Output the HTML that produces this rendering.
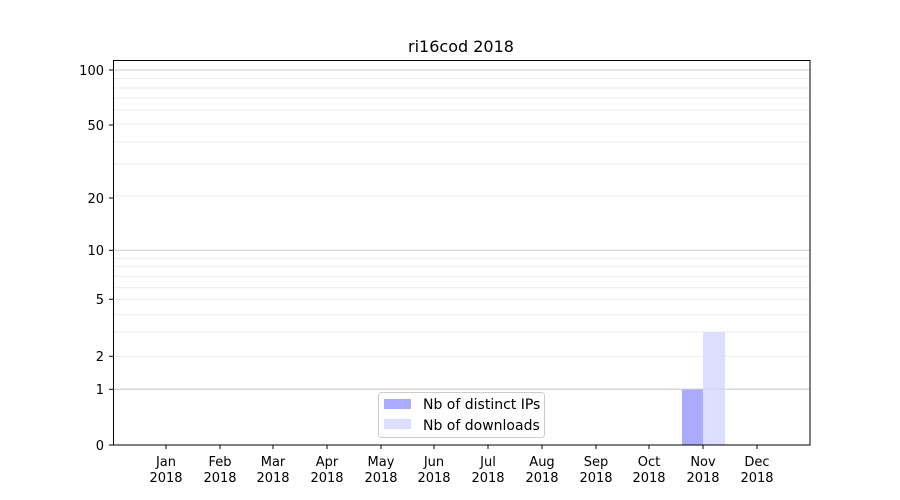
<!DOCTYPE html>
<html><head><style>body{margin:0;background:#fff}svg{display:block}</style></head><body>
<svg width="900" height="500" xmlns="http://www.w3.org/2000/svg" font-family="DejaVu Sans, Liberation Sans, sans-serif" font-size="13">
<rect width="900" height="500" fill="#fff"/>
<g stroke="#ebebeb" stroke-width="1">
<line x1="113" x2="810" y1="258.3" y2="258.3"/><line x1="113" x2="810" y1="266.3" y2="266.3"/><line x1="113" x2="810" y1="276.3" y2="276.3"/><line x1="113" x2="810" y1="287.7" y2="287.7"/><line x1="113" x2="810" y1="299.3" y2="299.3"/><line x1="113" x2="810" y1="314.7" y2="314.7"/><line x1="113" x2="810" y1="332" y2="332"/><line x1="113" x2="810" y1="356.3" y2="356.3"/>
<line x1="113" x2="810" y1="196" y2="196"/><line x1="113" x2="810" y1="164" y2="164"/><line x1="113" x2="810" y1="142" y2="142"/><line x1="113" x2="810" y1="124" y2="124"/><line x1="113" x2="810" y1="110" y2="110"/><line x1="113" x2="810" y1="98" y2="98"/><line x1="113" x2="810" y1="88" y2="88"/><line x1="113" x2="810" y1="78.5" y2="78.5"/>
</g>
<g stroke="#cccccc" stroke-width="1">
<line x1="113" x2="810" y1="70" y2="70"/><line x1="113" x2="810" y1="250.3" y2="250.3"/><line x1="113" x2="810" y1="389.3" y2="389.3"/>
</g>
<rect x="682" y="389.3" width="21" height="55.7" fill="#aaaaff"/>
<rect x="703" y="332" width="22" height="113" fill="#ddddff"/>
<line x1="113" x2="810" y1="389.3" y2="389.3" stroke="#cccccc" stroke-opacity="0.5"/>
<rect x="113.5" y="60.5" width="696.5" height="384.5" fill="none" stroke="#000" stroke-width="1"/>
<text x="461" y="52" text-anchor="middle" font-size="16">ri16cod 2018</text>
<g stroke="#000">
<line x1="109" x2="113" y1="70" y2="70"/><line x1="109" x2="113" y1="125" y2="125"/><line x1="109" x2="113" y1="198" y2="198"/><line x1="109" x2="113" y1="250.3" y2="250.3"/><line x1="109" x2="113" y1="299.3" y2="299.3"/><line x1="109" x2="113" y1="356.3" y2="356.3"/><line x1="109" x2="113" y1="389.3" y2="389.3"/><line x1="109" x2="113" y1="445" y2="445"/>
</g>
<g text-anchor="end">
<text x="104" y="75">100</text><text x="104" y="130">50</text><text x="104" y="203">20</text><text x="104" y="255">10</text><text x="104" y="304">5</text><text x="104" y="361">2</text><text x="104" y="394">1</text><text x="104" y="450">0</text>
</g>
<g text-anchor="middle">
<g stroke="#000">
<line x1="166" x2="166" y1="445" y2="449"/><line x1="220" x2="220" y1="445" y2="449"/><line x1="273" x2="273" y1="445" y2="449"/><line x1="327" x2="327" y1="445" y2="449"/><line x1="381" x2="381" y1="445" y2="449"/><line x1="434" x2="434" y1="445" y2="449"/><line x1="488" x2="488" y1="445" y2="449"/><line x1="542" x2="542" y1="445" y2="449"/><line x1="596" x2="596" y1="445" y2="449"/><line x1="649" x2="649" y1="445" y2="449"/><line x1="703" x2="703" y1="445" y2="449"/><line x1="757" x2="757" y1="445" y2="449"/>
</g>
<text x="166" y="466">Jan</text><text x="166" y="482">2018</text>
<text x="220" y="466">Feb</text><text x="220" y="482">2018</text>
<text x="273" y="466">Mar</text><text x="273" y="482">2018</text>
<text x="327" y="466">Apr</text><text x="327" y="482">2018</text>
<text x="381" y="466">May</text><text x="381" y="482">2018</text>
<text x="434" y="466">Jun</text><text x="434" y="482">2018</text>
<text x="488" y="466">Jul</text><text x="488" y="482">2018</text>
<text x="542" y="466">Aug</text><text x="542" y="482">2018</text>
<text x="596" y="466">Sep</text><text x="596" y="482">2018</text>
<text x="649" y="466">Oct</text><text x="649" y="482">2018</text>
<text x="703" y="466">Nov</text><text x="703" y="482">2018</text>
<text x="757" y="466">Dec</text><text x="757" y="482">2018</text>
</g>
<rect x="378.5" y="392.5" width="166" height="45" rx="3" fill="#fff" fill-opacity="0.8" stroke="#cccccc"/>
<rect x="384" y="399" width="27" height="10" fill="#aaaaff"/>
<rect x="384" y="419" width="27" height="10" fill="#ddddff"/>
<text x="423" y="409" font-size="14">Nb of distinct IPs</text>
<text x="423" y="430" font-size="14">Nb of downloads</text>
</svg>
</body></html>
